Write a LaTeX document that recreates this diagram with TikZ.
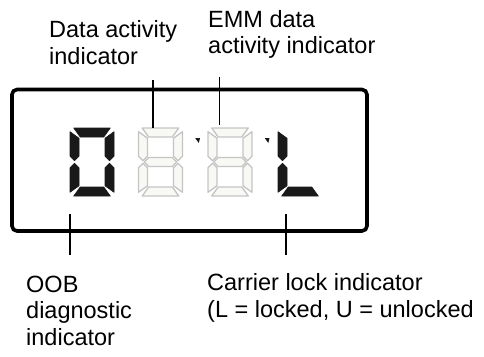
\documentclass[tikz,border=0pt]{standalone}
\usepackage{fontspec}
\setmainfont{Liberation Sans}
\definecolor{segfill}{HTML}{F8F8F4}
\definecolor{seggray}{HTML}{C4C4C4}
\def\sgW{44}\def\sgH{68}\def\sgT{9}\def\sgh{4.5}\def\sgC{2.5}\def\sgG{1.2}\def\sgM{34}
\newcommand\segA[1]{\path[#1] ({\sgC+\sgG},0) -- ({\sgW-\sgC-\sgG},0) -- ({\sgW-\sgT-\sgG},\sgT) -- ({\sgT+\sgG},\sgT) -- cycle;}
\newcommand\segB[1]{\path[#1] (\sgW,{\sgC+\sgG}) -- (\sgW,{\sgM-\sgh-\sgG}) -- ({\sgW-\sgh},{\sgM-\sgG}) -- ({\sgW-\sgT},{\sgM-\sgh-\sgG}) -- ({\sgW-\sgT},{\sgT+\sgG}) -- cycle;}
\newcommand\segC[1]{\path[#1] (\sgW,{\sgM+\sgh+\sgG}) -- (\sgW,{\sgH-\sgC-\sgG}) -- ({\sgW-\sgT},{\sgH-\sgT-\sgG}) -- ({\sgW-\sgT},{\sgM+\sgh+\sgG}) -- ({\sgW-\sgh},{\sgM+\sgG}) -- cycle;}
\newcommand\segD[1]{\path[#1] ({\sgC+\sgG},\sgH) -- ({\sgW-\sgC-\sgG},\sgH) -- ({\sgW-\sgT-\sgG},{\sgH-\sgT}) -- ({\sgT+\sgG},{\sgH-\sgT}) -- cycle;}
\newcommand\segE[1]{\path[#1] (0,{\sgM+\sgh+\sgG}) -- (\sgh,{\sgM+\sgG}) -- (\sgT,{\sgM+\sgh+\sgG}) -- (\sgT,{\sgH-\sgT-\sgG}) -- (0,{\sgH-\sgC-\sgG}) -- cycle;}
\newcommand\segF[1]{\path[#1] (0,{\sgC+\sgG}) -- (\sgT,{\sgT+\sgG}) -- (\sgT,{\sgM-\sgh-\sgG}) -- (\sgh,{\sgM-\sgG}) -- (0,{\sgM-\sgh-\sgG}) -- cycle;}
\newcommand\segG[1]{\path[#1] ({\sgh+\sgG},\sgM) -- ({\sgT+\sgG},{\sgM-\sgh}) -- ({\sgW-\sgT-\sgG},{\sgM-\sgh}) -- ({\sgW-\sgh-\sgG},\sgM) -- ({\sgW-\sgT-\sgG},{\sgM+\sgh}) -- ({\sgT+\sgG},{\sgM+\sgh}) -- cycle;}
\begin{document}
\begin{tikzpicture}[x=1pt,y=-1pt,
  segon/.style={fill=black!90,draw=black!90,line width=0.6pt,line join=round},
  segoff/.style={fill=segfill,draw=seggray,line width=1.3pt,line join=round},
  lbl/.style={font=\fontsize{23.5}{26.5}\selectfont,inner sep=0pt,anchor=base west,align=left},
  leader/.style={line width=1.8pt},
  panel/.style={line width=3.6pt,rounded corners=5pt}]
\useasboundingbox (0,0) rectangle (484,356);
% panel
\draw[panel] (12,89.5) rectangle (367,231);
% digit 0
\begin{scope}[shift={(70,128)}]
  \segA{segon}\segB{segon}\segC{segon}\segD{segon}\segE{segon}\segF{segon}
\end{scope}
% digit 8 (dim)
\begin{scope}[shift={(138.5,128)}]
  \segA{segoff}\segB{segoff}\segC{segoff}\segD{segoff}\segE{segoff}\segF{segoff}\segG{segoff}
\end{scope}
\begin{scope}[shift={(208,128)}]
  \segA{segoff}\segB{segoff}\segC{segoff}\segD{segoff}\segE{segoff}\segF{segoff}\segG{segoff}
\end{scope}
% L
\begin{scope}[shift={(278,128)}]
  \segD{segon}\segE{segon}\segF{segon}
\end{scope}
% dots
\fill[black!90] (195.3,138.2) -- (200,138.2) -- (198.8,143) -- cycle;
\fill[black!90] (264.8,138.2) -- (269.5,138.2) -- (268.3,143) -- cycle;
% labels (base anchor = baseline of the last line)
\node[lbl] (lda) at (49,64) {Data activity\\indicator};
\node[lbl] (lemm) at (208,53.5) {EMM data\\activity indicator};
\node[lbl] (loob) at (26,345) {OOB\\diagnostic\\indicator};
\node[lbl] (lcar) at (207,317) {Carrier lock indicator\\(L = locked, U = unlocked};
% leader lines
\coordinate (da1) at (153,80);  \coordinate (da2) at (153,128);
\coordinate (em1) at (219.5,77); \coordinate (em2) at (219.5,125);
\coordinate (oo1) at (70,214);  \coordinate (oo2) at (70,255);
\coordinate (ca1) at (286,214); \coordinate (ca2) at (286,255);
\draw[leader] (da1) -- (da2);
\draw[leader] (em1) -- (em2);
\draw[leader] (oo1) -- (oo2);
\draw[leader] (ca1) -- (ca2);
\end{tikzpicture}
\end{document}
